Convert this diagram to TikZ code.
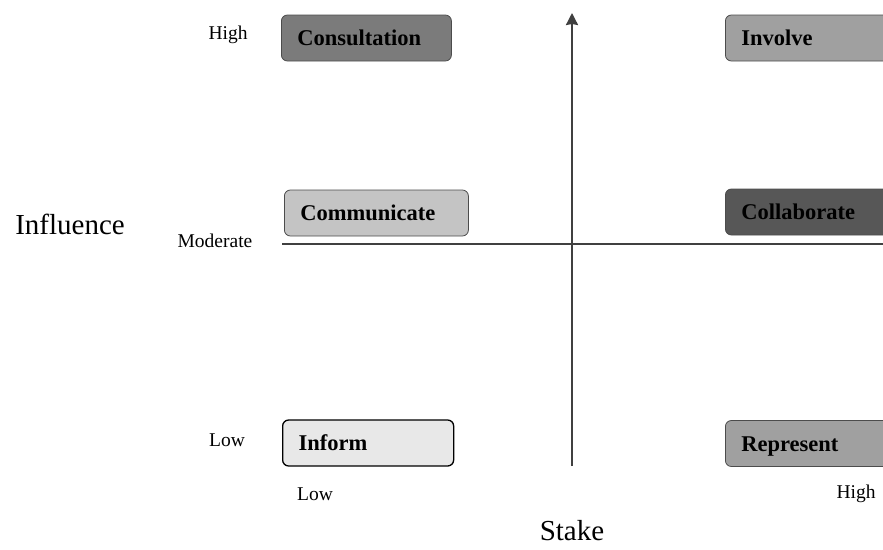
\documentclass[tikz,border=0pt]{standalone}
\usepackage{fontspec}
\setmainfont{Liberation Serif}
\usetikzlibrary{arrows.meta}

\definecolor{consultfill}{HTML}{7B7B7B}
\definecolor{involvefill}{HTML}{A0A0A0}
\definecolor{commfill}{HTML}{C4C4C4}
\definecolor{collabfill}{HTML}{575757}
\definecolor{informfill}{HTML}{E8E8E8}
\definecolor{axisgray}{HTML}{404040}

\begin{document}
\begin{tikzpicture}[
  x=1pt, y=-1pt,
  box/.style={draw=black!70, line width=0.8pt, rounded corners=6pt,
    minimum height=46pt, inner xsep=16pt, inner ysep=0pt, align=left,
    text height=15pt, text depth=0pt, anchor=west,
    font=\fontsize{22.5}{26}\selectfont\bfseries},
  tick/.style={font=\fontsize{19.5}{22}\selectfont},
  axisname/.style={inner sep=0pt, font=\fontsize{29}{33}\selectfont},
  ]
\useasboundingbox (0,0) rectangle (883,549);
\clip (0,0) rectangle (883,549);
% quadrant lines
\coordinate (m0) at (282,244);
\coordinate (m1) at (890,244);
\coordinate (s0) at (572,466);
\coordinate (s1) at (572,13);
\draw[axisgray, line width=2.2pt] (m0) -- (m1);
\draw[axisgray, line width=2.2pt, -{Stealth[length=12pt,width=12pt,inset=1pt]}] (s0) -- (s1);
% engagement boxes
\node[box, fill=consultfill, text width=138pt] (consult) at (281,38) {Consultation};
\node[box, fill=involvefill, text width=168pt] (involve) at (725,38) {Involve};
\node[box, fill=commfill, text width=152pt] (comm) at (284,213) {Communicate};
\node[box, fill=collabfill, text width=168pt] (collab) at (725,212) {Collaborate};
\node[box, draw=black, line width=1.3pt, fill=informfill, text width=139pt] (inform) at (282,443) {Inform};
\node[box, fill=involvefill, text width=168pt] (represent) at (725,443.5) {Represent};
% axis labels
\node[tick] (inhigh) at (228,35) {High};
\node[tick] (inmod) at (215,241) {Moderate};
\node[tick] (inlow) at (227,440) {Low};
\node[tick] (stlow) at (315,494) {Low};
\node[tick] (sthigh) at (856,494) {High};
\node[axisname] (influence) at (70,224) {Influence};
\node[axisname] (stake) at (572,531) {Stake};
\end{tikzpicture}
\end{document}
